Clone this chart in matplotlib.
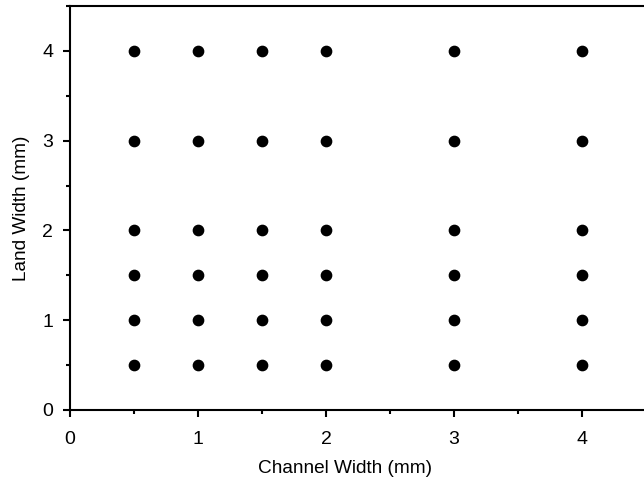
import matplotlib
matplotlib.use("Agg")
import matplotlib.pyplot as plt
from matplotlib.ticker import MultipleLocator

plt.rcParams["font.family"] = ["Liberation Sans", "DejaVu Sans"]

channel_widths = [0.5, 1, 1.5, 2, 3, 4]
land_widths = [0.5, 1, 1.5, 2, 3, 4]

xs = [c for c in channel_widths for l in land_widths]
ys = [l for c in channel_widths for l in land_widths]

fig = plt.figure(figsize=(6.44, 4.79), dpi=100)
ax = fig.add_axes([70 / 644, 69 / 479, 576 / 644, 404 / 479])

ax.scatter(xs, ys, s=55, color="black", zorder=3, clip_on=False)

ax.set_xlim(0, 4.5)
ax.set_ylim(0, 4.5)
ax.xaxis.set_major_locator(MultipleLocator(1))
ax.xaxis.set_minor_locator(MultipleLocator(0.5))
ax.yaxis.set_major_locator(MultipleLocator(1))
ax.yaxis.set_minor_locator(MultipleLocator(0.5))

for s in ax.spines.values():
    s.set_linewidth(1.5)
ax.tick_params(which="major", direction="out", length=5, width=1.5, labelsize=14)
ax.tick_params(axis="x", which="major", pad=10)
ax.tick_params(axis="y", which="major", pad=7)
ax.tick_params(which="minor", direction="out", length=3, width=1.5)
ax.tick_params(top=False, right=False, which="both")

ax.set_xlabel("Channel Width (mm)", fontsize=13.7)
ax.xaxis.set_label_coords(0.478, -0.123)
ax.set_ylabel("Land Width (mm)", fontsize=13.7, labelpad=9)

fig.savefig("out.png", dpi=100)
